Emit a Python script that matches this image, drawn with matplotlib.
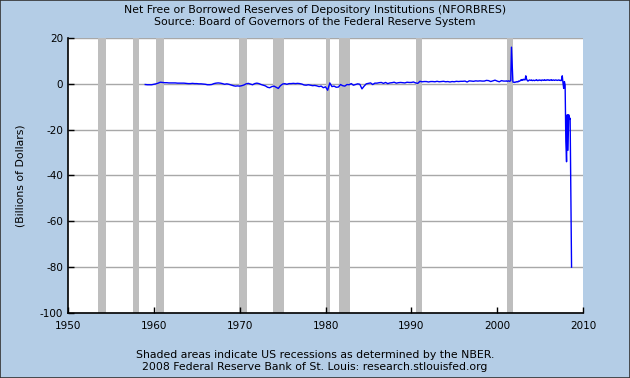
import matplotlib
matplotlib.use('Agg')
import matplotlib.pyplot as plt
import numpy as np

plt.rcParams['axes.unicode_minus'] = False
plt.rcParams['font.family'] = 'DejaVu Sans'

title = 'Net Free or Borrowed Reserves of Depository Institutions (NFORBRES)\nSource: Board of Governors of the Federal Reserve System'
footer = 'Shaded areas indicate US recessions as determined by the NBER.\n2008 Federal Reserve Bank of St. Louis: research.stlouisfed.org'
ylabel = '(Billions of Dollars)'

# quarterly values, 1959 Q1 .. 2000 Q4 (billions)
quarterly = [
    -0.3, -0.4, -0.4, -0.4,   # 1959
    -0.2, 0.0, 0.3, 0.7,      # 1960
    0.6, 0.5, 0.5, 0.4,       # 1961
    0.4, 0.4, 0.4, 0.3,
    0.3, 0.3, 0.3, 0.2,
    0.1, 0.1, 0.2, 0.1,
    0.1, 0.0, 0.0, -0.1,      # 1965
    -0.2, -0.4, -0.4, -0.3,
    0.1, 0.3, 0.4, 0.3,
    0.1, -0.2, 0.0, -0.2,
    -0.5, -0.8, -1.0, -0.9,
    -1.0, -0.8, -0.5, 0.0,    # 1970
    0.2, -0.1, -0.4, 0.1,
    0.3, 0.1, -0.3, -0.6,
    -0.9, -1.5, -1.7, -1.2,
    -1.0, -1.5, -2.0, -0.8,
    -0.1, 0.1, -0.2, 0.1,     # 1975
    0.1, 0.2, 0.1, 0.2,
    0.1, -0.1, -0.5, -0.6,
    -0.4, -0.6, -0.8, -0.7,
    -0.9, -1.2, -1.0, -1.7,
    -1.3, -2.8, 0.4, -1.2,    # 1980
    -1.0, -1.5, -1.4, -0.3,
    -0.8, -1.0, -0.3, -0.4,
    0.1, -0.6, -0.3, 0.0,
    -0.2, -2.2, -1.0, 0.0,
    0.2, 0.4, -0.3, 0.3,      # 1985
    0.3, 0.5, 0.6, 0.2,
    0.6, 0.1, 0.4, 0.5,
    0.7, 0.3, 0.5, 0.6,
    0.5, 0.4, 0.7, 0.6,
    0.6, 0.8, 0.4, 0.2,       # 1990
    1.1, 0.9, 1.0, 1.0,
    0.8, 1.0, 1.0, 0.9,
    1.1, 0.9, 1.0, 1.1,
    0.9, 1.0, 0.8, 1.0,
    0.9, 1.1, 1.0, 1.1,       # 1995
    1.1, 1.2, 0.8, 1.3,
    1.2, 1.1, 1.3, 1.2,
    1.3, 1.2, 1.2, 1.5,
    1.4, 1.0, 1.3, 1.6,
    1.2, 0.9, 1.4, 1.2,       # 2000
]

# monthly values, Jan 2001 .. Sep 2008 (billions)
monthly = [
    1.2, 1.3, 1.1, 1.2, 1.3, 1.1, 1.2, 1.4, 16.0, 8.0, 0.8, 0.7,       # 2001
    0.6, 0.8, 0.7, 0.9, 1.0, 0.8, 1.2, 1.1, 1.3, 1.7, 1.5, 1.9,        # 2002
    1.6, 2.0, 1.8, 1.7, 3.5, 2.2, 1.5, 1.2, 1.4, 1.7, 1.6, 1.5,        # 2003
    1.7, 1.4, 1.5, 1.6, 1.4, 1.5, 1.6, 1.8, 1.5, 1.4, 1.6, 1.7,        # 2004
    1.5, 1.6, 1.4, 1.7, 1.6, 1.5, 1.8, 1.6, 1.5, 1.7, 1.6, 1.8,        # 2005
    1.6, 1.5, 1.7, 1.6, 1.8, 1.5, 1.6, 1.7, 1.5, 1.6, 1.7, 1.6,        # 2006
    1.5, 1.6, 1.7, 1.5, 1.6, 1.4, 1.5, 3.5, 0.5, -2.0, 1.0, -0.5,      # 2007
    -25.0, -34.0, -13.5, -29.0, -13.5, -15.5, -15.0, -48.0, -80.0,     # 2008
]

# NBER recessions (start, end) in decimal years
recessions = [
    (1953.55, 1954.38), (1957.63, 1958.30), (1960.30, 1961.13),
    (1969.92, 1970.88), (1973.88, 1975.22), (1980.00, 1980.55),
    (1981.55, 1982.88), (1990.55, 1991.22), (2001.20, 2001.88),
]

xticks = [1950, 1960, 1970, 1980, 1990, 2000, 2010]
yticks = [-100, -80, -60, -40, -20, 0, 20]

t_q = 1959 + np.arange(len(quarterly)) / 4.0
t_m = 2001 + np.arange(len(monthly)) / 12.0
t = np.concatenate([t_q, t_m])
v = np.array(quarterly + monthly)

bg = '#B4CDE6'
fig = plt.figure(figsize=(6.3, 3.78), dpi=100, facecolor=bg)
fig.patches.append(plt.Rectangle((0, 0), 1, 1, transform=fig.transFigure,
                                 fill=False, edgecolor='#333333', linewidth=1.2))
ax = fig.add_axes([68 / 630, 65 / 378, 515 / 630, 275 / 378])
ax.set_facecolor('white')

for s, e in recessions:
    ax.axvspan(s, e, color='#BEBEBE', linewidth=0, zorder=1)

for yv in yticks:
    ax.axhline(yv, color='#A8A8A8', linewidth=1, zorder=0.5)

ax.plot(t, v, color='#0000FF', linewidth=1, zorder=3)

ax.set_xlim(1950, 2010)
ax.set_ylim(-100, 20)
ax.set_xticks(xticks)
ax.set_yticks(yticks)
ax.tick_params(direction='in', length=4, width=1, labelsize=7.5, colors='black')
ax.tick_params(axis='x', pad=6)
for side in ['top', 'right']:
    ax.spines[side].set_visible(False)
for side in ['left', 'bottom']:
    ax.spines[side].set_color('black')
    ax.spines[side].set_linewidth(1.2)
    ax.spines[side].set_zorder(4)

ax.set_ylabel(ylabel, fontsize=7.8, labelpad=10)

fig.text(0.5, 1 - 16 / 378, title, ha='center', va='center', fontsize=7.8,
         linespacing=1.35)
fig.text(0.5, 1 - 361 / 378, footer, ha='center', va='center', fontsize=7.8,
         linespacing=1.35)

fig.savefig('out.png', dpi=100, facecolor=bg)
